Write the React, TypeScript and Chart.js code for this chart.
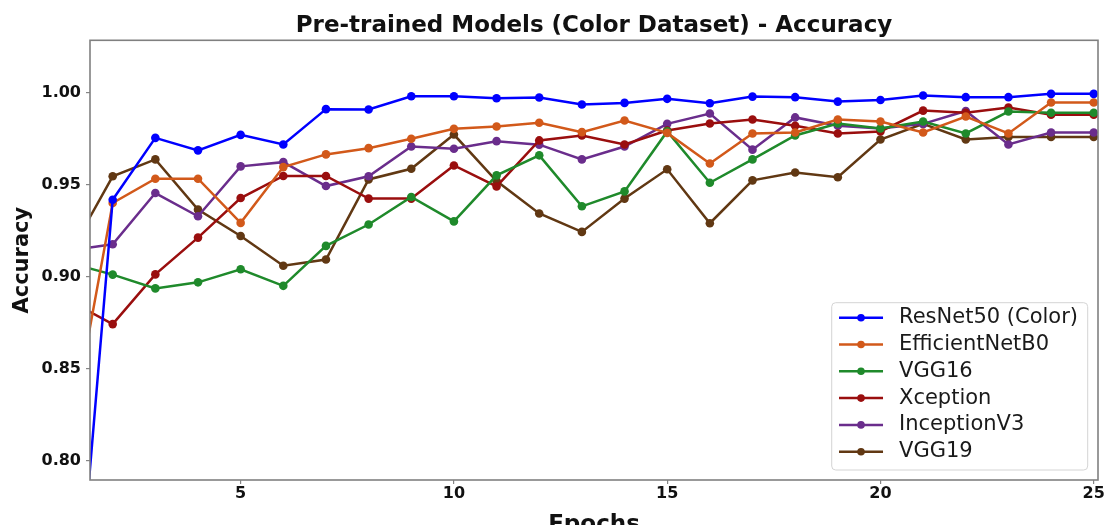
import React, { useEffect, useRef } from "react";
import { Chart, registerables } from "chart.js";

Chart.register(...registerables);

// ---------- data ----------
const epochs = [1, 2, 3, 4, 5, 6, 7, 8, 9, 10, 11, 12, 13, 14, 15, 16, 17, 18, 19, 20, 21, 22, 23, 24, 25];
const xTickValues = [5, 10, 15, 20, 25];
const yTickValues = [0.8, 0.85, 0.9, 0.95, 1.0];

const resnet50Color = [0.667, 0.9418, 0.9754, 0.9686, 0.977, 0.9718, 0.991, 0.9908, 0.998, 0.998, 0.9969, 0.9973, 0.9935, 0.9944, 0.9966, 0.9942, 0.9978, 0.9975, 0.9951, 0.996, 0.9984, 0.9975, 0.9975, 0.9993, 0.9993];
const efficientNetB0 = [0.813, 0.94, 0.9532, 0.9532, 0.9292, 0.9595, 0.9664, 0.9698, 0.9749, 0.9803, 0.9816, 0.9836, 0.9785, 0.9848, 0.9781, 0.9615, 0.9778, 0.9783, 0.9854, 0.9843, 0.9783, 0.987, 0.9778, 0.9946, 0.9946];
const vgg16 = [0.9073, 0.9011, 0.8936, 0.8969, 0.904, 0.895, 0.9167, 0.9283, 0.9433, 0.93, 0.955, 0.9659, 0.9382, 0.9463, 0.9789, 0.951, 0.9637, 0.9767, 0.9832, 0.9805, 0.9843, 0.9778, 0.9897, 0.989, 0.989];
const xception = [0.8867, 0.8742, 0.9012, 0.9212, 0.9427, 0.9547, 0.9547, 0.9424, 0.9424, 0.9604, 0.949, 0.974, 0.9767, 0.9718, 0.9794, 0.9832, 0.9854, 0.982, 0.9778, 0.9789, 0.9902, 0.989, 0.9919, 0.988, 0.988];
const inceptionV3 = [0.9143, 0.9176, 0.9454, 0.9328, 0.9599, 0.9622, 0.9492, 0.9545, 0.9707, 0.9695, 0.9736, 0.9717, 0.9637, 0.9707, 0.983, 0.9886, 0.969, 0.9865, 0.982, 0.9805, 0.983, 0.99, 0.9718, 0.9783, 0.9783];
const vgg19 = [0.913, 0.9545, 0.9637, 0.9364, 0.9221, 0.9059, 0.9093, 0.9528, 0.9586, 0.9772, 0.9519, 0.9343, 0.9243, 0.9424, 0.9583, 0.929, 0.9523, 0.9566, 0.954, 0.9745, 0.983, 0.9745, 0.9759, 0.9759, 0.9759];

const seriesNames = ["ResNet50 (Color)", "EfficientNetB0", "VGG16", "Xception", "InceptionV3", "VGG19"];
const seriesValues = [resnet50Color, efficientNetB0, vgg16, xception, inceptionV3, vgg19];
const seriesColors = ["#0000ff", "#d2591a", "#1f8a2b", "#9a0e0e", "#6a2d8c", "#613813"];

const titleText = "Pre-trained Models (Color Dataset) - Accuracy";
const xTitleText = "Epochs";
const yTitleText = "Accuracy";

const X_MIN = 1.468;
const X_MAX = 25.1;
const Y_MIN = 0.7895;
const Y_MAX = 1.0284;

const FONT = '"DejaVu Sans", "Liberation Sans", sans-serif';

function roundedRect(ctx: CanvasRenderingContext2D, x: number, y: number, w: number, h: number, r: number) {
  ctx.beginPath();
  ctx.moveTo(x + r, y);
  ctx.lineTo(x + w - r, y);
  ctx.arcTo(x + w, y, x + w, y + r, r);
  ctx.lineTo(x + w, y + h - r);
  ctx.arcTo(x + w, y + h, x + w - r, y + h, r);
  ctx.lineTo(x + r, y + h);
  ctx.arcTo(x, y + h, x, y + h - r, r);
  ctx.lineTo(x, y + r);
  ctx.arcTo(x, y, x + r, y, r);
  ctx.closePath();
}

const frameAndLegend = {
  id: "frameAndLegend",
  afterDatasetsDraw(chart: any) {
    const { ctx, chartArea: a } = chart;
    ctx.save();
    // axes frame (spines)
    ctx.strokeStyle = "#808080";
    ctx.lineWidth = 1.6;
    ctx.strokeRect(a.left, a.top, a.right - a.left, a.bottom - a.top);

    // legend inside lower right
    const items = chart.data.datasets;
    ctx.font = `21px ${FONT}`;
    const rowStep = 26.8;
    const padTop = 15;
    const padBottom = 18.3;
    const padLeft = 7.3;
    const padRight = 9.7;
    const lineLen = 44;
    const gap = 16;
    const textW = Math.max(...items.map((d: any) => ctx.measureText(d.label).width));
    const boxW = padLeft + lineLen + gap + textW + padRight;
    const boxH = padTop + rowStep * (items.length - 1) + padBottom;
    const bx = a.right - 10.3 - boxW;
    const by = a.bottom - 10 - boxH;
    roundedRect(ctx, bx, by, boxW, boxH, 4);
    ctx.fillStyle = "rgba(255,255,255,0.85)";
    ctx.fill();
    ctx.strokeStyle = "#d4d4d4";
    ctx.lineWidth = 1;
    ctx.stroke();
    items.forEach((d: any, i: number) => {
      const cy = by + padTop + i * rowStep;
      const lx = bx + padLeft;
      ctx.strokeStyle = d.borderColor;
      ctx.lineWidth = d.borderWidth;
      ctx.beginPath();
      ctx.moveTo(lx, cy);
      ctx.lineTo(lx + lineLen, cy);
      ctx.stroke();
      ctx.fillStyle = d.borderColor;
      ctx.beginPath();
      ctx.arc(lx + lineLen / 2, cy, 3.8, 0, Math.PI * 2);
      ctx.fill();
      ctx.fillStyle = "#1a1a1a";
      ctx.textBaseline = "middle";
      ctx.textAlign = "left";
      ctx.fillText(d.label, lx + lineLen + gap, cy);
    });
    ctx.restore();
  },
};

export default function App() {
  const canvasRef = useRef<HTMLCanvasElement | null>(null);

  useEffect(() => {
    document.body.style.margin = "0";
    document.body.style.overflow = "hidden";
    const canvas = canvasRef.current;
    if (!canvas) return;
    Chart.defaults.font.family = FONT;

    const datasets = seriesNames.map((name, si) => ({
      label: name,
      data: epochs.map((e, i) => ({ x: e, y: seriesValues[si][i] })),
      borderColor: seriesColors[si],
      backgroundColor: seriesColors[si],
      pointBackgroundColor: seriesColors[si],
      pointBorderColor: seriesColors[si],
      borderWidth: 2.5,
      pointRadius: 4.3,
      pointHoverRadius: 4.3,
      pointBorderWidth: 0,
      tension: 0,
      fill: false,
      clip: 0,
    }));

    const tickColor = "#858585";

    const chart = new Chart(canvas, {
      type: "line",
      data: { datasets },
      plugins: [frameAndLegend],
      options: {
        animation: false,
        responsive: true,
        maintainAspectRatio: false,
        devicePixelRatio: 1,
        layout: { padding: { left: 0, right: 11, top: 0, bottom: 0 } },
        plugins: {
          legend: { display: false },
          tooltip: { enabled: false },
          title: {
            display: true,
            text: titleText,
            fullSize: false,
            color: "#111111",
            font: { family: FONT, size: 23, weight: "bold" },
            padding: { top: 12.7, bottom: 0 },
          },
        },
        scales: {
          x: {
            type: "linear",
            min: X_MIN,
            max: X_MAX,
            afterBuildTicks: (axis: any) => {
              axis.ticks = xTickValues.map((v) => ({ value: v }));
            },
            afterFit: (scale: any) => {
              scale.height = 45;
            },
            ticks: {
              color: "#111111",
              font: { family: FONT, size: 16, weight: "bold" },
              padding: 0,
              maxRotation: 0,
              autoSkip: false,
              callback: (v: any) => String(v),
            },
            grid: {
              display: true,
              drawOnChartArea: false,
              drawTicks: true,
              tickLength: 4,
              color: tickColor,
              lineWidth: 1.2,
            },
            border: { display: false },
            title: {
              display: true,
              text: xTitleText,
              color: "#111111",
              font: { family: FONT, size: 23, weight: "bold" },
              padding: { top: 0, bottom: -13.5 },
            },
          },
          y: {
            type: "linear",
            min: Y_MIN,
            max: Y_MAX,
            afterBuildTicks: (axis: any) => {
              axis.ticks = yTickValues.map((v) => ({ value: v }));
            },
            afterFit: (scale: any) => {
              scale.width = 90;
            },
            ticks: {
              color: "#111111",
              font: { family: FONT, size: 16, weight: "bold" },
              padding: 5,
              autoSkip: false,
              callback: (v: any) => Number(v).toFixed(2),
            },
            grid: {
              display: true,
              drawOnChartArea: false,
              drawTicks: true,
              tickLength: 4,
              color: tickColor,
              lineWidth: 1.2,
            },
            border: { display: false },
            title: {
              display: true,
              text: yTitleText,
              color: "#111111",
              font: { family: FONT, size: 21, weight: "bold" },
              padding: { top: 10, bottom: 0 },
            },
          },
        },
      },
    } as any);

    return () => {
      chart.destroy();
    };
  }, []);

  return (
    <div style={{ position: "relative", width: "1109px", height: "525px" }}>
      <canvas ref={canvasRef} />
    </div>
  );
}
